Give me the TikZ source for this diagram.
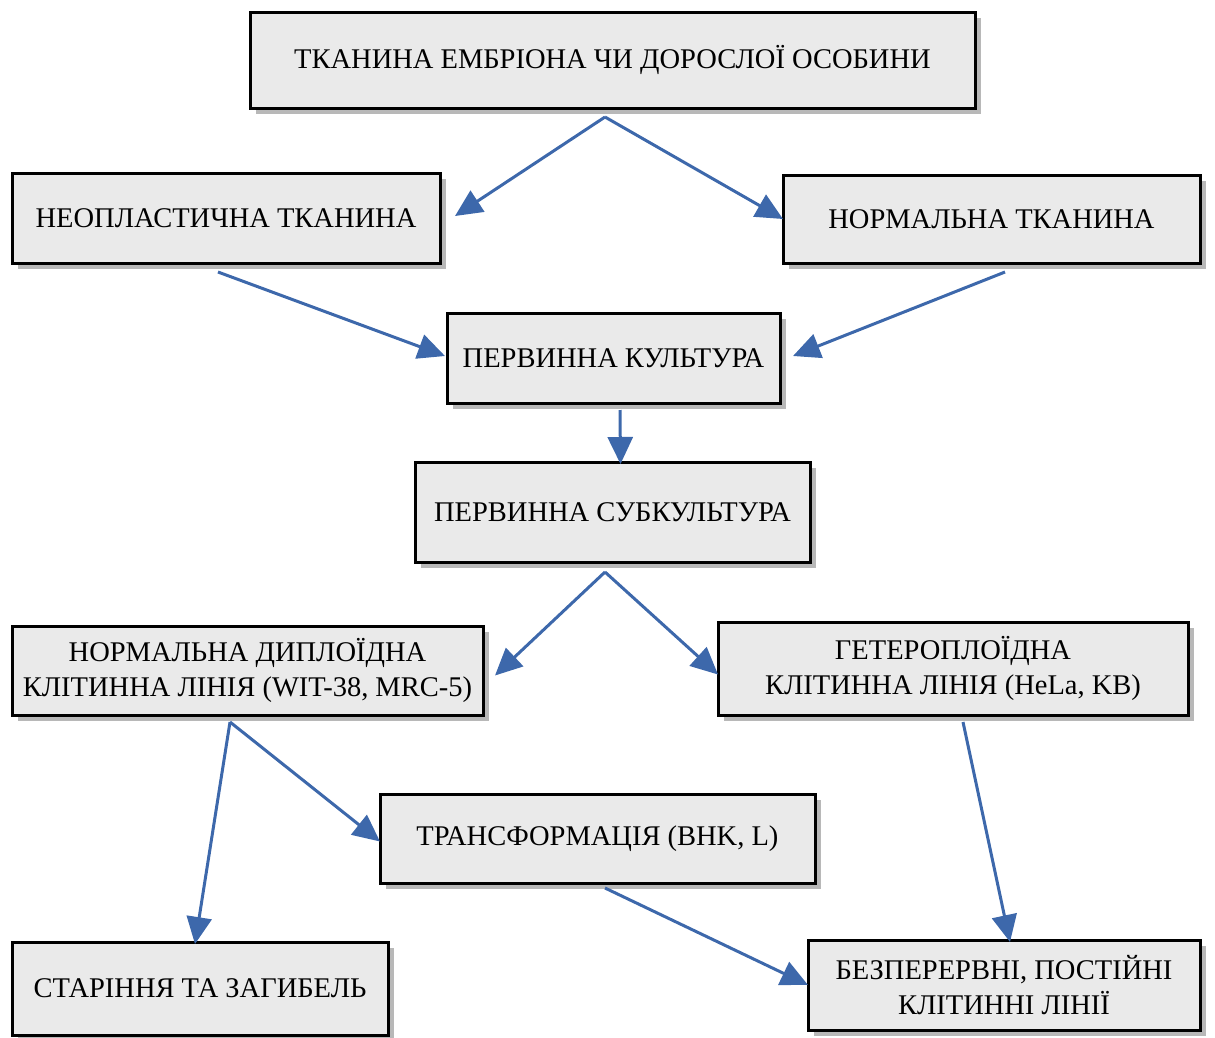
\documentclass[tikz,border=0pt]{standalone}
\usepackage{fontspec}
\setmainfont{Liberation Serif}
\usetikzlibrary{arrows.meta,shadows}
\definecolor{arrowblue}{RGB}{61,104,171}
\definecolor{boxfill}{RGB}{234,234,234}
\tikzset{
  box/.style={draw=black, line width=3pt, fill=boxfill, rectangle, inner sep=0pt, outer sep=0pt,
    anchor=north west, align=center, font=\fontsize{28.5}{35}\selectfont,
    drop shadow={shadow xshift=6pt, shadow yshift=-6pt, fill=gray!70, opacity=0.8}},
  arr/.style={draw=arrowblue, line width=3pt, -{Triangle[length=27pt,width=25pt]}, arrowblue}
}
\begin{document}
\begin{tikzpicture}[x=1pt,y=-1pt]
\useasboundingbox (0,0) rectangle (1215,1037);
\node[box, minimum width=725pt, minimum height=96pt] (top) at (250,12) {ТКАНИНА ЕМБРІОНА ЧИ ДОРОСЛОЇ ОСОБИНИ};
\node[box, minimum width=428pt, minimum height=90pt] (neo) at (12,173) {НЕОПЛАСТИЧНА ТКАНИНА};
\node[box, minimum width=417pt, minimum height=88pt] (norm) at (783,175) {НОРМАЛЬНА ТКАНИНА};
\node[box, minimum width=333pt, minimum height=90pt] (pc) at (447,313) {ПЕРВИННА КУЛЬТУРА};
\node[box, minimum width=395pt, minimum height=100pt] (psc) at (415,462) {ПЕРВИННА СУБКУЛЬТУРА};
\node[box, minimum width=471pt, minimum height=89pt] (dip) at (12,626) {НОРМАЛЬНА ДИПЛОЇДНА\\КЛІТИННА ЛІНІЯ (WIT-38, MRC-5)};
\node[box, minimum width=470pt, minimum height=93pt] (het) at (718,622) {ГЕТЕРОПЛОЇДНА\\КЛІТИННА ЛІНІЯ (HeLa, KB)};
\node[box, minimum width=435pt, minimum height=89pt] (tr) at (380,794) {ТРАНСФОРМАЦІЯ (BHK, L)};
\node[box, minimum width=376pt, minimum height=93pt] (age) at (12,942) {СТАРІННЯ ТА ЗАГИБЕЛЬ};
\node[box, minimum width=392pt, minimum height=90pt] (cont) at (808,940) {БЕЗПЕРЕРВНІ, ПОСТІЙНІ\\КЛІТИННІ ЛІНІЇ};

\coordinate (s1) at (605,117);
\coordinate (s2) at (218,272);
\coordinate (s3) at (1005,272);
\coordinate (s4) at (620,410);
\coordinate (s5) at (605,572);
\coordinate (s6) at (230,722);
\coordinate (s7) at (963,722);
\coordinate (s8) at (605,888);

\draw[arr] (s1) -- ([xshift=15pt,yshift=2pt]neo.east);
\draw[arr] (s1) -- ([yshift=0pt]norm.west);
\draw[arr] (s2) -- ([xshift=-2pt,yshift=2pt]pc.west);
\draw[arr] (s3) -- ([xshift=13pt,yshift=2pt]pc.east);
\draw[arr] (s4) -- ([xshift=8pt,yshift=-2pt]psc.north);
\draw[arr] (s5) -- ([xshift=12pt,yshift=-5pt]dip.east);
\draw[arr] (s5) -- ([yshift=-6pt]het.west);
\draw[arr] (s6) -- ([xshift=-5pt,yshift=-2pt]age.north);
\draw[arr] (s6) -- ([yshift=-3pt]tr.west);
\draw[arr] (s7) -- ([xshift=6pt,yshift=-2pt]cont.north);
\draw[arr] (s8) -- ([yshift=0pt]cont.west);
\end{tikzpicture}
\end{document}
